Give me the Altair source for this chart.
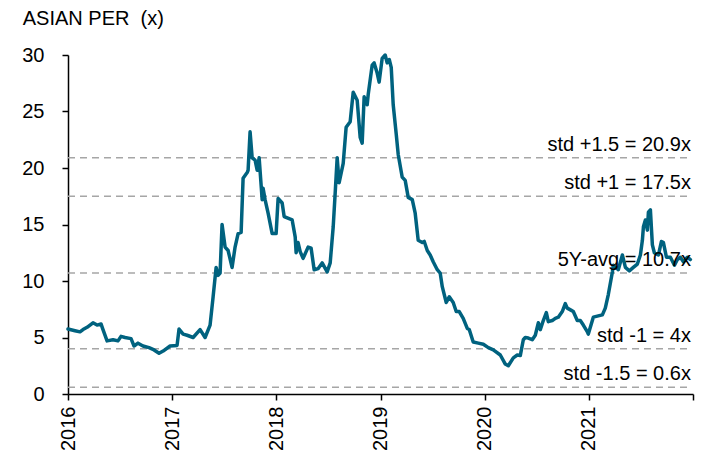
import altair as alt
import pandas as pd

years = [2016.000, 2016.067, 2016.115, 2016.144, 2016.183, 2016.240, 2016.279, 2016.317, 2016.336, 2016.375,
         2016.432, 2016.480, 2016.509, 2016.548, 2016.605, 2016.634, 2016.672, 2016.720, 2016.778, 2016.826,
         2016.874, 2016.913, 2016.980, 2017.047, 2017.066, 2017.105, 2017.143, 2017.201, 2017.268, 2017.316,
         2017.364, 2017.393, 2017.422, 2017.441, 2017.460, 2017.479, 2017.508, 2017.537, 2017.575, 2017.604,
         2017.633, 2017.662, 2017.681, 2017.720, 2017.729, 2017.748, 2017.768, 2017.796, 2017.816, 2017.835,
         2017.864, 2017.873, 2017.892, 2017.921, 2017.960, 2017.998, 2018.017, 2018.056, 2018.075, 2018.152,
         2018.181, 2018.190, 2018.209, 2018.229, 2018.257, 2018.305, 2018.334, 2018.363, 2018.402, 2018.440,
         2018.488, 2018.517, 2018.546, 2018.565, 2018.584, 2018.603, 2018.642, 2018.670, 2018.709, 2018.738,
         2018.776, 2018.805, 2018.824, 2018.843, 2018.872, 2018.882, 2018.920, 2018.939, 2018.968, 2018.987,
         2019.016, 2019.045, 2019.064, 2019.084, 2019.103, 2019.122, 2019.151, 2019.170, 2019.208, 2019.237,
         2019.266, 2019.305, 2019.333, 2019.362, 2019.401, 2019.420, 2019.449, 2019.477, 2019.506, 2019.545,
         2019.573, 2019.593, 2019.631, 2019.660, 2019.698, 2019.727, 2019.756, 2019.794, 2019.833, 2019.852,
         2019.890, 2019.939, 2019.987, 2020.035, 2020.083, 2020.150, 2020.198, 2020.227, 2020.275, 2020.313,
         2020.342, 2020.371, 2020.390, 2020.419, 2020.457, 2020.486, 2020.515, 2020.534, 2020.563, 2020.592,
         2020.611, 2020.649, 2020.678, 2020.707, 2020.745, 2020.774, 2020.793, 2020.832, 2020.851, 2020.889,
         2020.918, 2020.947, 2020.986, 2020.995, 2021.043, 2021.130, 2021.158, 2021.187, 2021.226, 2021.235,
         2021.283, 2021.322, 2021.351, 2021.389, 2021.427, 2021.466, 2021.495, 2021.514, 2021.524, 2021.543,
         2021.562, 2021.572, 2021.591, 2021.610, 2021.629, 2021.668, 2021.697, 2021.716, 2021.745, 2021.783,
         2021.822, 2021.850, 2021.879, 2021.908, 2021.946, 2021.975]

per = [5.75, 5.6, 5.5, 5.7, 5.9, 6.3, 6.1, 6.2, 5.7, 4.7,
       4.8, 4.7, 5.1, 5.0, 4.9, 4.25, 4.5, 4.25, 4.1, 3.9,
       3.6, 3.8, 4.25, 4.3, 5.75, 5.3, 5.2, 5.0, 5.7, 5.0,
       6.1, 8.6, 11.2, 10.5, 10.7, 15.0, 13.0, 12.7, 11.2, 13.0,
       14.2, 14.3, 19.1, 19.6, 19.8, 23.2, 20.9, 20.7, 19.8, 20.9,
       17.2, 18.2, 17.2, 16.0, 14.2, 14.2, 17.3, 16.9, 15.7, 15.4,
       13.9, 12.5, 13.4, 12.6, 12.0, 13.0, 12.9, 11.0, 11.1, 11.6,
       10.8, 11.6, 14.8, 17.8, 20.9, 18.7, 20.4, 23.6, 24.1, 26.7,
       26.0, 22.7, 22.2, 26.3, 25.6, 26.5, 29.1, 29.3, 28.4, 27.6,
       29.7, 30.0, 29.3, 29.6, 28.9, 25.6, 23.0, 21.2, 19.2, 18.9,
       17.4, 17.2, 16.0, 13.6, 13.4, 13.5, 12.7, 12.3, 11.7, 11.0,
       10.7, 9.5, 8.1, 8.6, 8.1, 7.3, 7.3, 6.7, 5.8, 5.7,
       4.6, 4.5, 4.4, 4.1, 3.9, 3.45, 2.65, 2.5, 3.2, 3.45,
       3.4, 4.8, 5.0, 4.95, 4.8, 5.2, 6.3, 5.7, 6.5, 7.2,
       6.4, 6.5, 6.7, 6.8, 7.3, 8.0, 7.6, 7.4, 7.3, 6.5,
       6.5, 6.1, 5.5, 5.3, 6.8, 7.0, 7.6, 8.8, 10.8, 11.4,
       11.0, 12.3, 11.2, 10.9, 11.2, 11.5, 12.3, 13.6, 14.8, 15.4,
       14.5, 16.1, 16.3, 13.2, 12.5, 12.3, 13.5, 13.4, 12.1, 12.1,
       11.4, 11.9, 12.1, 11.7, 12.1, 11.9]

level_values = [20.9, 17.5, 10.7, 4.0, 0.6]
level_labels = ["std +1.5 = 20.9x", "std +1 = 17.5x", "5Y-avg = 10.7x", "std -1 = 4x", "std -1.5 = 0.6x"]
x_start = 2016
x_end = 2022
label_x = 2021.98
year_ticks = [2016, 2017, 2018, 2019, 2020, 2021, 2022]
y_ticks = [0, 5, 10, 15, 20, 25, 30]

FONT = "Liberation Sans"

df = pd.DataFrame({"year": years, "per": per})
levels = pd.DataFrame({"value": level_values, "label": level_labels,
                       "x1": [x_start] * 5, "x2": [label_x] * 5, "lx": [label_x] * 5})

xscale = alt.Scale(domain=[x_start, x_end], nice=False, zero=False)
yscale = alt.Scale(domain=[0, 30], nice=False)

rules = alt.Chart(levels).mark_rule(color="#a6a6a6", strokeWidth=1.5, strokeDash=[7, 5]).encode(
    x=alt.X("x1:Q", scale=xscale),
    x2="x2:Q",
    y=alt.Y("value:Q", scale=yscale),
)

texts = alt.Chart(levels).mark_text(align="right", baseline="bottom", dy=-3, fontSize=20,
                                    font=FONT, color="#000000").encode(
    x=alt.X("lx:Q", scale=xscale),
    y=alt.Y("value:Q", scale=yscale),
    text="label:N",
)

line = alt.Chart(df).mark_line(color="#00627f", strokeWidth=3.5, strokeJoin="round",
                               strokeCap="round").encode(
    x=alt.X("year:Q", scale=xscale,
            axis=alt.Axis(title=None, values=year_ticks, format="d", labelAngle=-90,
                          labelAlign="right", labelBaseline="middle",
                          labelExpr="datum.value == 2022 ? '' : datum.label",
                          grid=False, domainColor="#000", domainWidth=1.5,
                          tickColor="#000", tickWidth=1.5, tickSize=6, labelPadding=6,
                          labelFontSize=20, labelFont=FONT, labelColor="#000")),
    y=alt.Y("per:Q", scale=yscale,
            axis=alt.Axis(title=None, values=y_ticks, grid=False, domainColor="#000",
                          domainWidth=1.5, tickColor="#000", tickWidth=1.5, tickSize=6,
                          labelPadding=18, labelFontSize=20, labelFont=FONT, labelColor="#000")),
)

chart = alt.layer(rules, line, texts).properties(
    width=625, height=339,
    autosize=alt.AutoSizeParams(type="none"),
    padding={"left": 60, "top": 47, "right": 10, "bottom": 60},
    title=alt.TitleParams("ASIAN PER\u00a0\u00a0(x)", anchor="start", dx=1, offset=16, fontSize=20,
                          fontWeight="normal", font=FONT, color="#000"),
).configure_view(stroke=None)

chart.save("out.html", embed_options={"renderer": "svg", "actions": False})
